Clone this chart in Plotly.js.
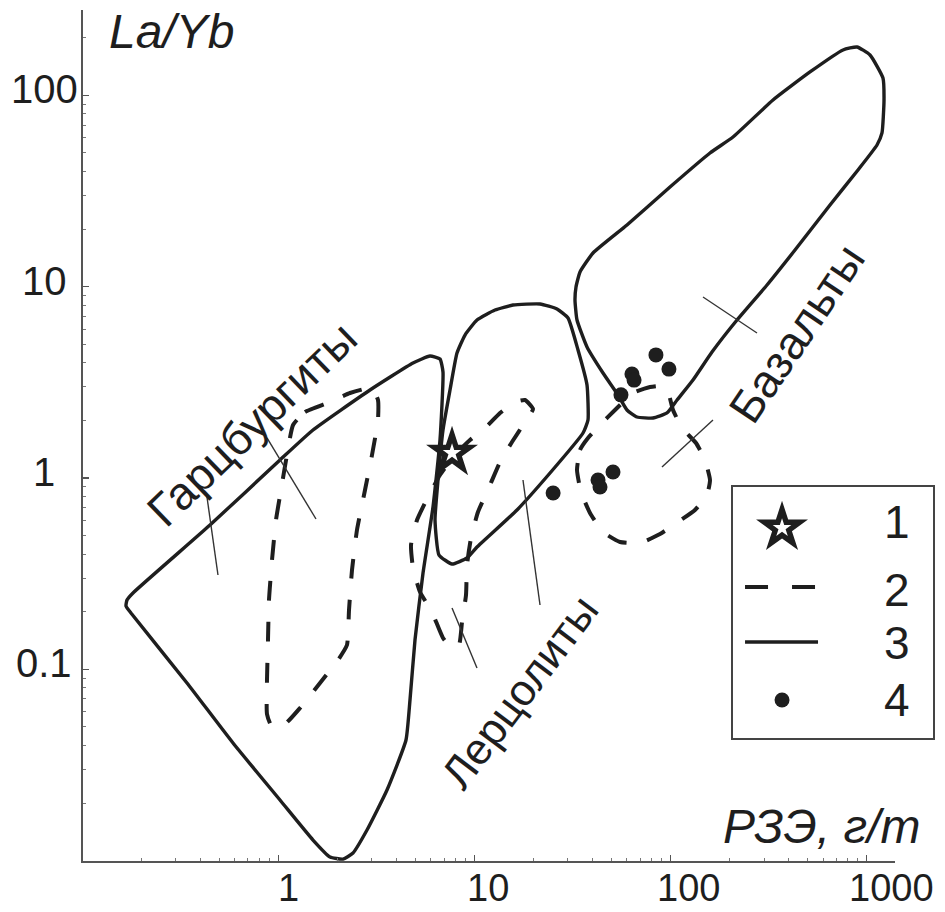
<!DOCTYPE html>
<html><head><meta charset="utf-8">
<script src="https://cdn.plot.ly/plotly-3.0.1.min.js"></script>
<style>html,body{margin:0;padding:0;background:#fff}#chart{width:945px;height:912px}</style>
</head><body><div id="chart"></div>
<script>
// ---------- data (x = РЗЭ, г/т ; y = La/Yb) ----------
// Harzburgite field (solid outline)
var harzX = [0.1837, 0.4485, 1.020, 1.503, 2.935, 4.863, 5.937, 6.677, 6.916, 6.677, 6.150, 5.470, 4.978, 4.694, 4.479, 3.584, 2.834, 2.404, 2.138, 1.835, 1.503, 1.020, 0.5875, 0.3423, 0.1773, 0.1673, 0.1692, 0.1837];
var harzY = [0.2535, 0.5679, 1.242, 1.782, 2.884, 3.991, 4.343, 4.188, 3.583, 1.580, 0.7054, 0.3187, 0.1423, 0.06911, 0.04270, 0.02339, 0.01445, 0.01096, 0.01019, 0.01044, 0.01281, 0.02074, 0.04118, 0.08482, 0.1969, 0.2142, 0.2302, 0.2535];
// Lherzolite field (solid outline)
var lherzX = [8.151, 8.957, 10.31, 12.74, 15.73, 21.61, 26.38, 30.02, 33.76, 37.52, 37.96, 35.80, 24.30, 16.49, 10.31, 9.169, 7.689, 6.600, 6.298, 6.523, 6.916, 7.510, 8.151];
var lherzY = [4.502, 5.591, 6.697, 7.555, 8.023, 8.120, 7.646, 6.861, 4.669, 3.063, 2.010, 1.719, 1.062, 0.6806, 0.4358, 0.3818, 0.3552, 0.3958, 0.6033, 0.9762, 1.782, 2.884, 4.502];
// Basalt field (solid outline)
var basX = [59.99, 67.48, 81.44, 95.98, 108.0, 130.2, 162.8, 218.3, 310.6, 431.4, 650.8, 903.8, 1130, 1198, 1227, 1212, 1041, 893.3, 758.1, 514.5, 333.2, 208.3, 159.0, 99.4, 59.99, 40.26, 34.56, 32.97, 32.58, 33.36, 37.52, 45.27, 54.00, 59.99];
var basY = [2.267, 2.084, 2.059, 2.187, 2.557, 3.253, 4.556, 6.697, 10.21, 15.55, 26.73, 40.74, 55.05, 63.61, 94.62, 123.3, 162.7, 179.1, 172.8, 132.6, 94.62, 60.61, 50.0, 33.2, 21.02, 15.0, 11.94, 9.96, 8.52, 6.697, 4.840, 3.538, 2.716, 2.267];
// dashed fields (2)
var dashHarzX = [1.189, 1.368, 1.835, 2.321, 3.005, 3.224, 3.224, 3.005, 2.768, 2.519, 2.376, 2.294, 2.240, 2.016, 1.632, 1.290, 1.082, 0.9288, 0.8757, 0.8757, 0.8860, 0.8965, 0.9288, 0.9734, 1.032, 1.107, 1.189];
var dashHarzY = [1.893, 2.213, 2.496, 2.782, 2.954, 2.557, 2.010, 1.319, 0.8656, 0.5348, 0.3305, 0.2042, 0.1340, 0.1118, 0.08482, 0.06276, 0.05177, 0.04994, 0.05838, 0.08793, 0.1423, 0.2302, 0.3726, 0.6033, 0.8656, 1.319, 1.893];
var dashLherzX = [7.689, 6.916, 6.078, 5.281, 4.863, 4.750, 5.098, 5.800, 6.677, 7.962, 9.497, 11.33, 13.51, 16.11, 18.11, 19.90, 18.11, 15.55, 13.51, 12.01, 10.43, 9.610, 9.169, 9.062, 8.647, 8.347, 7.689];
var dashLherzY = [0.1292, 0.1458, 0.1993, 0.2535, 0.3385, 0.4465, 0.6033, 0.7957, 1.037, 1.319, 1.580, 1.825, 2.187, 2.496, 2.557, 2.295, 1.962, 1.542, 1.212, 0.9192, 0.6642, 0.4857, 0.3509, 0.2445, 0.1767, 0.1340, 0.1292];
var dashBasX = [33.36, 34.56, 37.96, 43.71, 52.12, 64.39, 78.64, 89.44, 97.12, 103.0, 114.5, 134.9, 149.9, 159.0, 153.5, 133.3, 109.2, 88.40, 69.92, 55.27, 45.27, 38.86, 34.96, 33.36];
var dashBasY = [1.101, 1.401, 1.619, 1.893, 2.267, 2.782, 2.990, 3.026, 2.816, 2.267, 1.825, 1.524, 1.242, 0.9762, 0.8150, 0.6806, 0.5888, 0.5096, 0.4572, 0.4627, 0.5220, 0.6561, 0.8448, 1.101];
// label leader strokes
var leadX = [0.4329, 0.4926, null, 0.8757, 1.557, null, 17.69, 21.61, null, 7.689, 10.31, null, 146.5, 276.1, null, 90.50, 164.7];
var leadY = [0.7957, 0.3112, null, 1.619, 0.6106, null, 0.9762, 0.2168, null, 0.2091, 0.1016, null, 8.836, 5.728, null, 1.142, 2.010];
// (1) studied sample
var starX = [7.69];
var starY = [1.35];
// (4) basalt samples
var ptsX = [84.3, 98.2, 63.6, 65.2, 55.9, 50.9, 42.7, 43.7, 25.2];
var ptsY = [4.40, 3.71, 3.50, 3.25, 2.72, 1.075, 0.976, 0.897, 0.835];
// axis ticks and labels
var xTickVals = [1, 10, 100, 1000];
var xTickText = ['1', '10', '100', '1000'];
var yTickVals = [0.1, 1, 10, 100];
var yTickText = ['0.1', '1', '10', '100'];
var xMinor = [0.2,0.3,0.4,0.5,0.6,0.7,0.8,0.9,2,3,4,5,6,7,8,9,20,30,40,50,60,70,80,90,200,300,400,500,600,700,800,900];
var yMinor = [0.02,0.03,0.04,0.05,0.06,0.07,0.08,0.09,0.2,0.3,0.4,0.5,0.6,0.7,0.8,0.9,2,3,4,5,6,7,8,9,20,30,40,50,60,70,80,90,200];
var fieldNames = ['Гарцбургиты', 'Лерцолиты', 'Базальты'];
var legendLabels = ['1', '2', '3', '4'];
var xTitle = 'РЗЭ, г/т';
var yTitle = 'La/Yb';

// ---------- styling / layout ----------
var INK = '#1e1e1e';
var FONT = 'Liberation Sans, Arial, sans-serif';
var DASH = '20px,21px';

function outline(x, y, dashed) {
  return {x: x, y: y, mode: 'lines', type: 'scatter', hoverinfo: 'skip', showlegend: false,
    line: {color: INK, width: dashed ? 4 : 3.4, dash: dashed ? DASH : 'solid', shape: 'spline', smoothing: 0.45}};
}

var traces = [
  outline(harzX, harzY, false),
  outline(lherzX, lherzY, false),
  outline(basX, basY, false),
  outline(dashHarzX, dashHarzY, true),
  outline(dashLherzX, dashLherzY, true),
  outline(dashBasX, dashBasY, true),
  {x: leadX, y: leadY, mode: 'lines', type: 'scatter', connectgaps: false, showlegend: false, hoverinfo: 'skip',
   line: {color: '#333', width: 1.4}},
  {x: ptsX, y: ptsY, mode: 'markers', type: 'scatter', showlegend: false,
   marker: {symbol: 'circle', size: 15, color: INK}},
  {x: starX, y: starY, mode: 'markers', type: 'scatter', showlegend: false,
   marker: {symbol: 'star', size: 39, color: INK}},
  {x: starX, y: starY, mode: 'markers', type: 'scatter', showlegend: false, hoverinfo: 'skip',
   marker: {symbol: 'star', size: 14, color: '#fff'}}
];

// custom legend drawn in its own small axes
var legPos = {star: [0.245, 0.8367], dash: [[0.06, 0.41], 0.6016], solid: [[0.06, 0.425], 0.3825], dot: [0.245, 0.1514],
              textX: 0.82, textY: [0.8606, 0.5896, 0.3785, 0.1514]};
traces.push(
  {x: [legPos.star[0]], y: [legPos.star[1]], xaxis: 'x2', yaxis: 'y2', mode: 'markers', type: 'scatter', showlegend: false,
   marker: {symbol: 'star', size: 39, color: INK}},
  {x: [legPos.star[0]], y: [legPos.star[1]], xaxis: 'x2', yaxis: 'y2', mode: 'markers', type: 'scatter', showlegend: false,
   marker: {symbol: 'star', size: 14, color: '#fff'}},
  {x: legPos.dash[0], y: [legPos.dash[1], legPos.dash[1]], xaxis: 'x2', yaxis: 'y2', mode: 'lines', type: 'scatter', showlegend: false,
   line: {color: INK, width: 4, dash: '23px,24px'}},
  {x: legPos.solid[0], y: [legPos.solid[1], legPos.solid[1]], xaxis: 'x2', yaxis: 'y2', mode: 'lines', type: 'scatter', showlegend: false,
   line: {color: INK, width: 3.4}},
  {x: [legPos.dot[0]], y: [legPos.dot[1]], xaxis: 'x2', yaxis: 'y2', mode: 'markers', type: 'scatter', showlegend: false,
   marker: {symbol: 'circle', size: 15, color: INK}}
);

var annotations = [];
// y tick labels (centred left of the axis, as in the original)
yTickVals.forEach(function (v, i) {
  annotations.push({xref: 'paper', yref: 'y', x: -0.0452, y: Math.log10(v), yshift: 6, text: yTickText[i],
    showarrow: false, xanchor: 'center', yanchor: 'middle', font: {family: FONT, size: 40, color: INK}});
});
// x tick labels (slightly right of their ticks, as in the original)
var xLabelShift = [10, 14, 18, 25];
xTickVals.forEach(function (v, i) {
  annotations.push({xref: 'x', yref: 'paper', x: Math.log10(v), y: -0.0317, xshift: xLabelShift[i], text: xTickText[i],
    showarrow: false, xanchor: 'center', yanchor: 'middle', font: {family: FONT, size: 38, color: INK}});
});
legendLabels.forEach(function (t, i) {
  annotations.push({xref: 'x2', yref: 'y2', x: legPos.textX, y: legPos.textY[i], text: t, showarrow: false,
    xanchor: 'center', yanchor: 'middle', font: {family: FONT, size: 46, color: INK}});
});
var fieldPos = [[0.1960, 0.5135, -44, 46], [0.5070, 0.1986, -53, 44], [0.8283, 0.6204, -56, 46]];
fieldNames.forEach(function (t, i) {
  annotations.push({xref: 'paper', yref: 'paper', x: fieldPos[i][0], y: fieldPos[i][1], text: t, textangle: fieldPos[i][2],
    showarrow: false, xanchor: 'center', yanchor: 'middle', font: {family: FONT, size: fieldPos[i][3], color: INK}});
});
annotations.push({xref: 'paper', yref: 'paper', x: 0.0278, y: 0.9753, text: yTitle, showarrow: false, xanchor: 'left', yanchor: 'middle',
  font: {family: FONT, size: 48, color: INK, style: 'italic'}});
annotations.push({xref: 'paper', yref: 'paper', x: 0.973, y: 0.0400, text: xTitle, showarrow: false, xanchor: 'right', yanchor: 'middle',
  font: {family: FONT, size: 48, color: INK, style: 'italic'}});

var layout = {
  width: 945, height: 912,
  margin: {l: 83, r: 0, t: 10, b: 51},
  paper_bgcolor: '#fff', plot_bgcolor: 'rgba(0,0,0,0)',
  showlegend: false,
  xaxis: {type: 'log', range: [-0.9959, 3.1448], domain: [0, 0.94199], showgrid: false, zeroline: false,
    showline: true, linecolor: '#555', linewidth: 2, ticks: 'inside', ticklen: 6, tickwidth: 1.5, tickcolor: '#555',
    tickmode: 'array', tickvals: xTickVals, showticklabels: false,
    minor: {tickmode: 'array', tickvals: xMinor, ticks: 'inside', ticklen: 3, tickwidth: 1, tickcolor: '#777', showgrid: false}},
  yaxis: {type: 'log', range: [-2.002, 2.4464], showgrid: false, zeroline: false,
    showline: true, linecolor: '#555', linewidth: 2, ticks: 'inside', ticklen: 6, tickwidth: 1.5, tickcolor: '#555',
    tickmode: 'array', tickvals: yTickVals, showticklabels: false,
    minor: {tickmode: 'array', tickvals: yMinor, ticks: 'inside', ticklen: 3, tickwidth: 1, tickcolor: '#777', showgrid: false}},
  xaxis2: {domain: [0.7541, 0.9861], range: [0, 1], anchor: 'y2', showline: true, mirror: true, linecolor: '#444', linewidth: 2,
    showgrid: false, zeroline: false, showticklabels: false, ticks: '', fixedrange: true},
  yaxis2: {domain: [0.1445, 0.4395], range: [0, 1], anchor: 'x2', showline: true, mirror: true, linecolor: '#444', linewidth: 2,
    showgrid: false, zeroline: false, showticklabels: false, ticks: '', fixedrange: true},
  annotations: annotations
};

Plotly.newPlot('chart', traces, layout, {displayModeBar: false, staticPlot: true});
</script></body></html>
